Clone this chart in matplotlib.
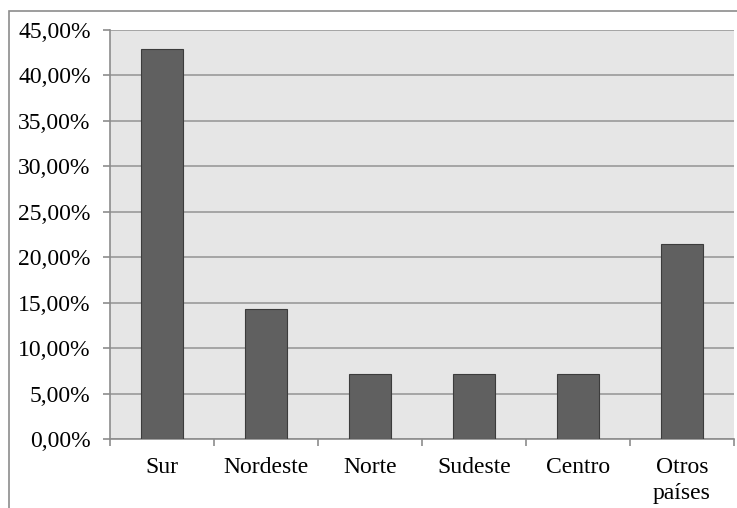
import numpy as np
import matplotlib.pyplot as plt
from matplotlib.patches import Rectangle
from matplotlib.ticker import FuncFormatter

categorias = ["Sur", "Nordeste", "Norte", "Sudeste", "Centro", "Otros\npaíses"]
porcentajes = [42.86, 14.29, 7.14, 7.14, 7.14, 21.43]
yticks = np.arange(0, 46, 5)

plt.rcParams['font.family'] = ['Liberation Serif', 'DejaVu Serif']

fig = plt.figure(figsize=(7.37, 5.08), dpi=100)
ax = fig.add_axes([110/737, 69/508, 624/737, 409/508])

# marco exterior del grafico
fig.patches.append(Rectangle((9/737, -0.2), 2, 0.2 + (508-11)/508, transform=fig.transFigure,
                             fill=False, edgecolor="#8c8c8c", lw=1.2))

x = np.arange(len(categorias))
ax.set_facecolor("#e6e6e6")
ax.bar(x, porcentajes, width=0.41, color="#606060", edgecolor="#3c3c3c", lw=0.8, zorder=3)

ax.set_xlim(-0.5, len(categorias) - 0.5)
ax.set_ylim(0, 45)
ax.set_yticks(yticks)
ax.yaxis.set_major_formatter(FuncFormatter(lambda v, p: f"{v:.2f}%".replace(".", ",")))
ax.grid(axis="y", color="#9a9a9a", lw=1.2, zorder=1)

ax.set_xticks(x)
ax.set_xticklabels(categorias, linespacing=1.3, va="top")
ax.set_xticks(np.arange(-0.5, len(categorias)), minor=True)
ax.tick_params(axis="x", which="major", length=0, pad=13, labelsize=17)
ax.tick_params(axis="x", which="minor", length=5, color="#8c8c8c", width=1.2)
ax.tick_params(axis="y", length=5, color="#8c8c8c", width=1.2, labelsize=17, pad=9)

for s in ["top", "right"]:
    ax.spines[s].set_visible(False)
for s in ["left", "bottom"]:
    ax.spines[s].set_color("#8c8c8c")
    ax.spines[s].set_linewidth(1.2)

fig.savefig("out.png", dpi=100)
